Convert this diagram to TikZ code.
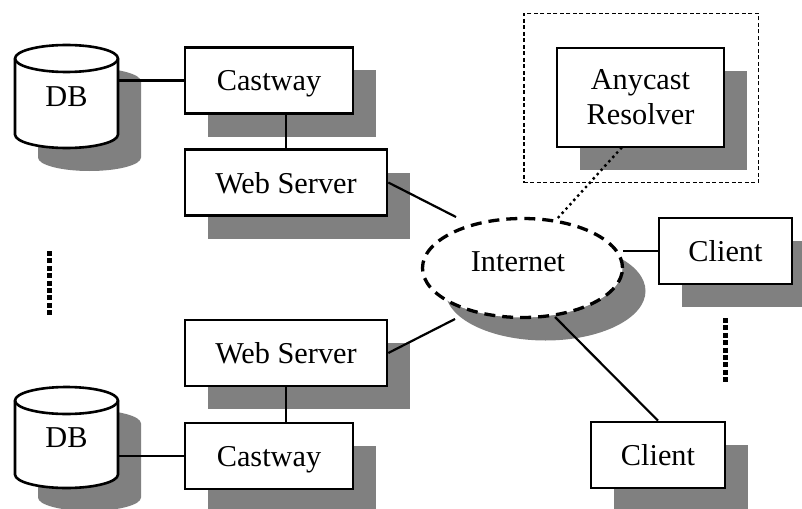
\documentclass[tikz,border=0pt]{standalone}
\usepackage{fontspec}
\setmainfont{Liberation Serif}
\usetikzlibrary{shapes.geometric,shadows}
\definecolor{shadowgrey}{HTML}{808080}

% outline of a drum (database) with centre x #1, top rim y #2, bottom rim y #3
\newcommand{\drumpath}[3]{(#1-51.5,#2) -- (#1-51.5,#3)
  arc[start angle=180,end angle=0,x radius=51.5,y radius=13.5]
  -- (#1+51.5,#2)
  arc[start angle=0,end angle=-180,x radius=51.5,y radius=13.5] -- cycle}
\newcommand{\drum}[3]{%
  \fill[shadowgrey] \drumpath{#1+23}{#2+23}{#3+23};
  \draw[line width=2.6pt,fill=white] \drumpath{#1}{#2}{#3};
  \draw[line width=2.6pt] (#1-51.5,#2)
    arc[start angle=180,end angle=0,x radius=51.5,y radius=13.5];}

\tikzset{
  castshadow/.style={drop shadow={shadow xshift=23pt,shadow yshift=-23pt,fill=shadowgrey,opacity=1}},
  box/.style={draw,line width=2.6pt,fill=white,inner sep=0pt,minimum height=66pt,castshadow},
  onebox/.style={box,text depth=0pt},
  dbtext/.style={inner sep=0pt,minimum width=103pt,minimum height=103pt},
  link/.style={line width=2.2pt},
  vdots/.style={line width=5pt,dash pattern=on 5pt off 2.4pt},
  dotlink/.style={line width=3.4pt,line cap=round,dash pattern=on 0pt off 5.8pt},
  cloud/.style={ellipse,draw,line width=3.3pt,dash pattern=on 11pt off 7pt,fill=white,
    inner sep=0pt,minimum width=200pt,minimum height=99pt,castshadow},
  groupbox/.style={draw,line width=1.5pt,dash pattern=on 4pt off 2.5pt,inner sep=0pt}
}

\begin{document}
\begin{tikzpicture}[x=1pt,y=-1pt,font=\fontsize{30.3}{35}\selectfont]
\useasboundingbox (0,0) rectangle (802,508);

% resolver group frame
\node[groupbox,minimum width=234.5pt,minimum height=169pt] (grp) at (641,98) {};

% databases
\drum{66.5}{58.5}{134.5}
\drum{66.5}{400.5}{474.5}
\node[dbtext] (db1) at (66.5,96.5) {DB};
\node[dbtext] (db2) at (66.5,438) {DB};

% server side
\node[onebox,minimum width=168pt] (cw1) at (269,80.5) {Castway};
\node[onebox,minimum width=202pt] (ws1) at (286,182.5) {Web Server};
\node[onebox,minimum width=202pt] (ws2) at (286,353) {Web Server};
\node[onebox,minimum width=168pt] (cw2) at (269,456) {Castway};

% network
\node[cloud] (inet) at (522.5,268) {};
\node (inettext) at (518,262) {Internet};

% resolver and clients
\node[box,minimum width=167pt,minimum height=99pt,align=center] (any) at (640.5,97.5) {Anycast\\Resolver};
\node[onebox,minimum width=133pt] (cl1) at (725.5,251) {Client};
\node[onebox,minimum width=134pt] (cl2) at (658,455) {Client};

% free ends of the links near the cloud
\coordinate (in1) at (456,217);
\coordinate (in2) at (455,319);
\coordinate (in3) at (623,251);
\coordinate (in4) at (555,317);

% links
\draw[link] (cw1.west) -- (cw1.west -| db1.east);
\draw[link] (cw2.west) -- (cw2.west -| db2.east);
\draw[link] (ws1.north) -- (ws1.north |- cw1.south);
\draw[link] (ws2.south) -- (ws2.south |- cw2.north);
\draw[link] (ws1.east) -- (in1);
\draw[link] (ws2.east) -- (in2);
\draw[link] (cl1.west) -- (in3);
\draw[link] (cl2.north) -- (in4);
\draw[dotlink] (any.249) -- (inet.55);

% "more of the same" marks
\coordinate (lt) at (49,251);
\coordinate (lb) at (49,316);
\coordinate (rt) at (725,318);
\coordinate (rb) at (725,384);
\draw[vdots] (lt) -- (lb);
\draw[vdots] (rt) -- (rb);
\end{tikzpicture}
\end{document}
